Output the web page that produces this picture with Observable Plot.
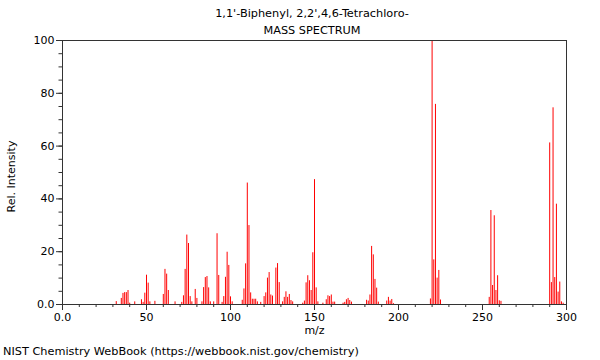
<!DOCTYPE html>
<html>
<head>
<meta charset="utf-8">
<script src="https://cdn.jsdelivr.net/npm/d3@7"></script>
<script src="https://cdn.jsdelivr.net/npm/@observablehq/plot@0.6"></script>
<style>
  html, body { margin: 0; padding: 0; background: #fff; }
  body { width: 600px; height: 360px; overflow: hidden; font-family: "DejaVu Sans", sans-serif; color: #000; }
  #title { height: 38px; padding-top: 5px; box-sizing: border-box; text-align: center; font-size: 11.3px; line-height: 17px; padding-left: 24px; }
  #caption { height: 16px; font-size: 11.3px; line-height: 16px; padding-left: 3px; white-space: nowrap; }
  svg { display: block; }
</style>
</head>
<body>
<div id="title"><div>1,1'-Biphenyl, 2,2',4,6-Tetrachloro-</div><div>MASS SPECTRUM</div></div>
<div id="chart"></div>
<div id="caption">NIST Chemistry WebBook (https://webbook.nist.gov/chemistry)</div>
<script>
const titleText = "1,1'-Biphenyl, 2,2',4,6-Tetrachloro-";
const subtitleText = "MASS SPECTRUM";
const xLabel = "m/z";
const yLabel = "Rel. Intensity";

const mzValues = [32,35,36,37,38,39,40,43,47,48,49,50,51,52,55,60,61,62,63,67,71,72,73,74,75,76,77,79,80,83,84,85,86,87,88,90,92,93,95,96,97,98,99,100,101,107,108,109,110,111,112,113,114,115,116,118,120,121,122,123,124,125,127,128,129,131,132,133,134,135,136,137,143,144,145,146,147,148,149,150,151,152,155,157,158,159,160,161,162,167,168,169,170,171,172,181,182,183,184,185,186,187,188,193,194,195,196,197,219,220,221,222,223,224,225,254,255,256,257,258,259,260,261,290,291,292,293,294,295,296,297,298];
const intensities = [1.1,2.3,4.2,4.5,4.5,5.3,0.5,1,1.8,0.8,4.3,11.1,8.1,1,1.2,3.8,13.3,11.5,5.3,1,0.8,3.3,13.3,26.3,23.1,3,1,5.7,2.3,1,6.4,10.2,10.6,6.3,1,1,26.8,11,0.8,3,10.3,19.8,14.8,2.9,1,1.6,5.9,15.4,46,29.9,4.4,2,2,2,1,0.8,3,4.4,10,12.1,3.6,3.2,13.8,15.5,8.3,1,2.7,4.8,2.7,3.8,1.5,1,0.5,1.3,8.2,10.9,9,5.3,19.6,47.3,6.3,1,0.5,1.8,3.3,3,3.6,0.9,0.9,0.5,0.8,1.8,2.3,1.5,0.9,1.6,1.3,3.6,22,18.8,9.5,6.2,0.9,1.3,2.7,1.3,1.9,0.3,2.1,100,16.9,75.8,10,12.9,1.7,2.7,35.6,7.2,33.6,5.3,10.9,1.4,1.2,61.2,8.3,74.5,10.2,38,4.7,8.5,1,0.5];

const xMajorTicks = [0,50,100,150,200,250,300];
const xMinorTicks = d3.range(0, 301, 10);
const yMajorTicks = [0,20,40,60,80,100];
const yMinorTicks = d3.range(0, 101, 5);
const zeroLabel = "0.0";

const peaks = mzValues.map((mz, i) => ({mz, intensity: intensities[i]}));
const fmt = d => d === 0 ? zeroLabel : String(d);
const axisColor = "#333";

const chart = Plot.plot({
  width: 600,
  height: 306,
  marginTop: 2,
  marginLeft: 62,
  marginRight: 34,
  marginBottom: 40,
  style: {fontFamily: "DejaVu Sans, sans-serif", fontSize: "11px", background: "#fff", color: "#000", overflow: "visible"},
  x: {domain: [0, 300]},
  y: {domain: [0, 100]},
  marks: [
    Plot.ruleX(peaks, {x: "mz", y1: 0, y2: "intensity", stroke: "#ff0000", strokeWidth: 1}),
    Plot.frame({stroke: axisColor}),
    Plot.axisX({ticks: xMinorTicks, tickSize: 3, tickFormat: () => "", stroke: axisColor, label: null}),
    Plot.axisX({ticks: xMajorTicks, tickSize: 6, tickPadding: 3, tickFormat: fmt, stroke: axisColor, label: null}),
    Plot.axisY({ticks: yMinorTicks, tickSize: 3.5, tickFormat: () => "", stroke: axisColor, label: null}),
    Plot.axisY({ticks: yMajorTicks, tickSize: 6, tickPadding: 2, tickFormat: fmt, stroke: axisColor, label: null}),
    Plot.text([xLabel], {frameAnchor: "bottom", dy: 29, text: d => d, fill: "#000"}),
    Plot.text([yLabel], {frameAnchor: "left", dx: -51, dy: 4, rotate: -90, textAnchor: "middle", text: d => d, fill: "#000"})
  ]
});
document.getElementById("chart").appendChild(chart);
</script>
</body>
</html>
